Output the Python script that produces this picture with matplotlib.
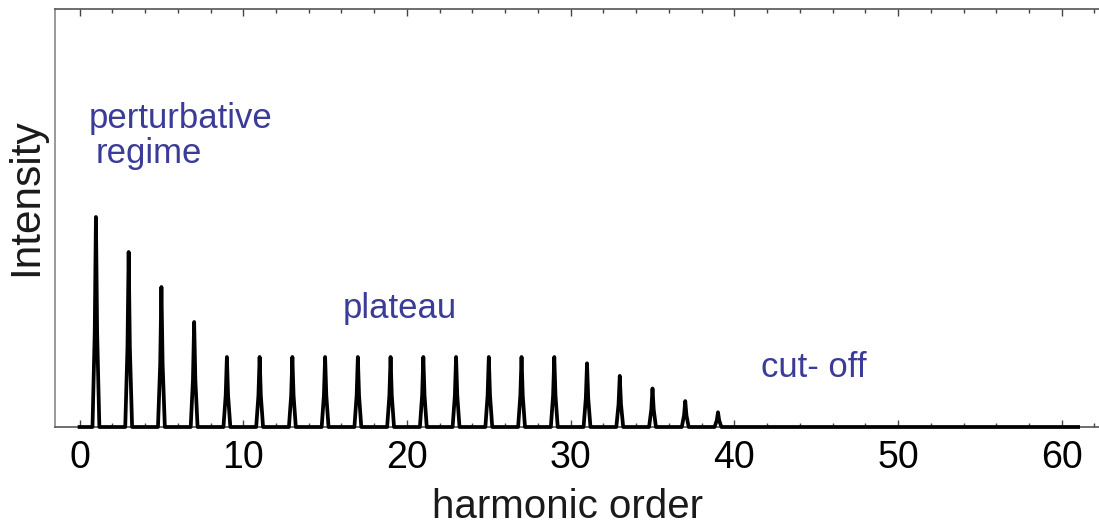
import matplotlib
matplotlib.use("Agg")
import matplotlib.pyplot as plt
from matplotlib.ticker import MultipleLocator
import numpy as np

plt.rcParams['font.family'] = ['Liberation Sans', 'DejaVu Sans']

# Data: odd harmonic orders and their peak intensities (plateau = 1)
harmonics = [1, 3, 5, 7, 9, 11, 13, 15, 17, 19, 21, 23, 25, 27, 29, 31, 33, 35, 37, 39]
intensity = [3.0, 2.5, 2.0, 1.5, 1.0, 1.0, 1.0, 1.0, 1.0, 1.0, 1.0, 1.0, 1.0, 1.0, 1.0,
             0.91, 0.73, 0.55, 0.37, 0.21]
x_start, x_end = 0, 61
x_ticks = [0, 10, 20, 30, 40, 50, 60]

annotations = [("perturbative", 0.55, 4.27), ("regime", 1.0, 3.77),
               ("plateau", 16.1, 1.56), ("cut- off", 41.6, 0.71)]

# build spectrum line: narrow peaks on a flat baseline
half_w = 0.21
xs, ys = [x_start], [0.0]
for h, v in zip(harmonics, intensity):
    xs += [h - half_w, h - half_w * 0.35, h, h + half_w * 0.35, h + half_w]
    ys += [0.0, v * 0.45, v, v * 0.45, 0.0]
xs.append(x_end)
ys.append(0.0)

W, H = 1099, 526
fig = plt.figure(figsize=(W / 100, H / 100), dpi=100)
left_px, right_px, top_px, bot_px = 55, 1112, 9, 427
ax = fig.add_axes([left_px / W, 1 - bot_px / H, (right_px - left_px) / W, (bot_px - top_px) / H])

ax.plot(xs, ys, color='black', lw=2.7, solid_joinstyle='round', clip_on=False, zorder=3)

x_left = -1.5
px_per_unit = 16.37
ax.set_xlim(x_left, x_left + (right_px - left_px) / px_per_unit)
ax.set_ylim(0, (bot_px - top_px) / 70.0)

ax.set_xticks(x_ticks)
ax.xaxis.set_minor_locator(MultipleLocator(2))
ax.tick_params(axis='x', which='major', direction='in', length=5, width=1, color='#444444',
               top=True, labelsize=27, pad=9)
ax.tick_params(axis='x', which='minor', direction='in', length=3, width=1, color='#444444', top=True)
ax.set_yticks([])

for side in ['left', 'bottom', 'top']:
    ax.spines[side].set_color('#555555')
    ax.spines[side].set_linewidth(1.2)
ax.spines['left'].set_color('#888888')
ax.spines['right'].set_visible(False)

ax.set_xlabel('harmonic order', fontsize=29, color='#1a1a1a')
ax.xaxis.set_label_coords(0.485, -0.145)
ax.set_ylabel('Intensity', fontsize=30.5, color='#1a1a1a')
ax.yaxis.set_label_coords(-0.008, 0.55)

for txt, tx, ty in annotations:
    ax.text(tx, ty, txt, color='#3b3b98', fontsize=25, ha='left', va='baseline')

fig.savefig('out.png', dpi=100)
